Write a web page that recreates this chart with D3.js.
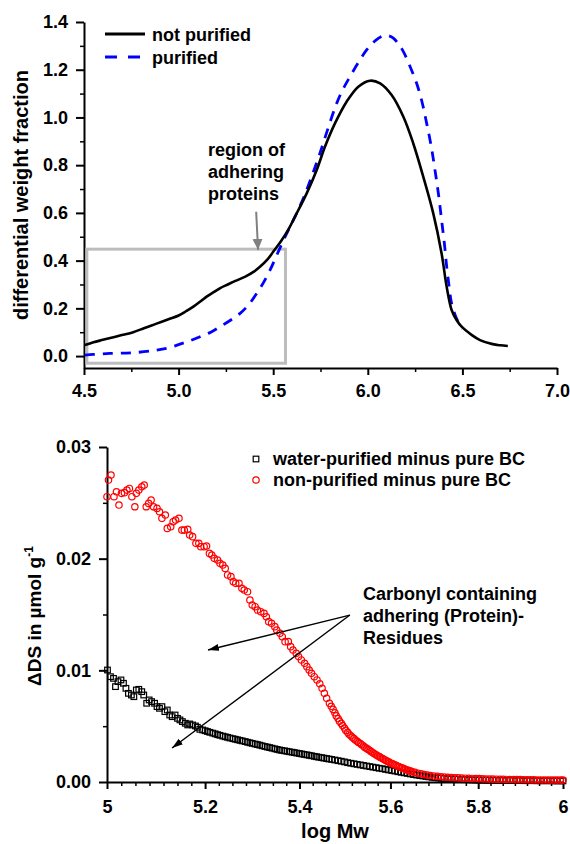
<!DOCTYPE html>
<html>
<head>
<meta charset="utf-8">
<script src="https://cdn.jsdelivr.net/npm/d3@7"></script>
<style>
  body { margin: 0; background: #fff; }
  svg text { font-family: "Liberation Sans", Arial, sans-serif; font-weight: bold; }
</style>
</head>
<body>
<div id="chart"></div>
<script>
// ---------- top panel: MWD curves ----------
const notPurifiedLogMw = [4.505, 4.55, 4.60, 4.65, 4.70, 4.76, 4.82, 4.88, 4.95, 5.00, 5.04, 5.08, 5.12, 5.15, 5.19, 5.22, 5.26, 5.30, 5.35, 5.40, 5.43, 5.47, 5.50, 5.54, 5.58, 5.615, 5.677, 5.73, 5.774, 5.827, 5.888, 5.95, 6.012, 6.065, 6.126, 6.188, 6.24, 6.293, 6.346, 6.39, 6.417, 6.443, 6.47, 6.496, 6.55, 6.593, 6.66, 6.70, 6.74];
const notPurifiedFrac = [0.046, 0.058, 0.068, 0.078, 0.088, 0.100, 0.118, 0.135, 0.155, 0.170, 0.188, 0.208, 0.232, 0.250, 0.270, 0.285, 0.300, 0.315, 0.332, 0.355, 0.374, 0.405, 0.437, 0.480, 0.530, 0.584, 0.682, 0.780, 0.878, 0.976, 1.066, 1.129, 1.154, 1.143, 1.094, 1.003, 0.892, 0.752, 0.598, 0.430, 0.290, 0.193, 0.150, 0.123, 0.088, 0.067, 0.050, 0.045, 0.042];

const purifiedLogMw = [4.505, 4.55, 4.637, 4.76, 4.884, 4.95, 5.007, 5.06, 5.113, 5.17, 5.219, 5.27, 5.325, 5.37, 5.413, 5.45, 5.483, 5.52, 5.55, 5.58, 5.62, 5.66, 5.70, 5.747, 5.79, 5.836, 5.87, 5.906, 5.95, 5.994, 6.04, 6.082, 6.11, 6.135, 6.16, 6.188, 6.22, 6.258, 6.285, 6.311, 6.335, 6.355, 6.375, 6.39, 6.405, 6.417, 6.43, 6.443, 6.465, 6.487, 6.50];
const purifiedFrac = [0.004, 0.007, 0.011, 0.014, 0.025, 0.035, 0.050, 0.064, 0.081, 0.100, 0.123, 0.148, 0.179, 0.215, 0.263, 0.310, 0.360, 0.425, 0.478, 0.528, 0.592, 0.662, 0.745, 0.850, 0.955, 1.060, 1.120, 1.171, 1.230, 1.283, 1.322, 1.342, 1.342, 1.332, 1.310, 1.276, 1.220, 1.143, 1.070, 0.976, 0.880, 0.780, 0.670, 0.570, 0.470, 0.374, 0.290, 0.220, 0.165, 0.130, 0.115];

const topXTicks = [4.5, 5.0, 5.5, 6.0, 6.5, 7.0];
const topYTicks = [0.0, 0.2, 0.4, 0.6, 0.8, 1.0, 1.2, 1.4];
const topLegend = ["not purified", "purified"];
const topNote = ["region of", "adhering", "proteins"];

// ---------- bottom panel: delta DS ----------
const waterLogMw = [5.001, 5.007, 5.013, 5.017, 5.022, 5.028, 5.033, 5.038, 5.043, 5.049, 5.054, 5.059, 5.064, 5.070, 5.074, 5.080, 5.085, 5.090, 5.096, 5.101, 5.106, 5.111, 5.117, 5.122, 5.127, 5.132, 5.138, 5.143, 5.148, 5.153, 5.159, 5.164, 5.168, 5.174, 5.180, 5.184, 5.189, 5.195,
  5.200, 5.205, 5.210, 5.216, 5.221, 5.226, 5.231, 5.237, 5.242, 5.247, 5.252, 5.258, 5.263, 5.268, 5.273, 5.278, 5.284, 5.289, 5.294, 5.299, 5.305, 5.310, 5.315, 5.320, 5.326, 5.331, 5.336, 5.341, 5.347, 5.352, 5.357, 5.362, 5.368, 5.373, 5.378, 5.384, 5.389, 5.394, 5.400, 5.405, 5.410, 5.416, 5.421, 5.426, 5.432, 5.437, 5.442, 5.448, 5.453, 5.459, 5.464, 5.470,
  5.477, 5.484, 5.491, 5.498, 5.505, 5.512, 5.519, 5.526, 5.533, 5.540, 5.547, 5.554, 5.561, 5.568, 5.575, 5.582, 5.589, 5.596, 5.603, 5.610, 5.617, 5.624, 5.631, 5.638, 5.645, 5.652, 5.659, 5.666, 5.673, 5.680, 5.687, 5.694, 5.701, 5.708, 5.715, 5.722,
  5.730, 5.738, 5.746, 5.754, 5.762, 5.770, 5.778, 5.786, 5.794, 5.802, 5.810, 5.818, 5.826, 5.834, 5.842, 5.850, 5.858, 5.866, 5.874, 5.882, 5.890, 5.898, 5.906, 5.914, 5.922, 5.930, 5.938, 5.946, 5.954, 5.962, 5.970, 5.978, 5.986, 5.994, 6.000];
const waterDS = [0.01003, 0.00943, 0.00928, 0.00854, 0.00899, 0.00914, 0.00884, 0.00839, 0.00794, 0.00779, 0.00764, 0.00824, 0.00830, 0.00809, 0.00779, 0.00705, 0.00735, 0.00720, 0.00705, 0.00675, 0.00660, 0.00675, 0.00630, 0.00645, 0.00600, 0.00585, 0.00600, 0.00570, 0.00556, 0.00541, 0.00526, 0.00511, 0.00520, 0.00511, 0.00502, 0.00490, 0.00472, 0.00466,
  0.00459, 0.00452, 0.00445, 0.00438, 0.00431, 0.00424, 0.00418, 0.00411, 0.00405, 0.00400, 0.00394, 0.00388, 0.00383, 0.00378, 0.00373, 0.00368, 0.00362, 0.00356, 0.00351, 0.00346, 0.00340, 0.00335, 0.00330, 0.00324, 0.00318, 0.00313, 0.00308, 0.00303, 0.00297, 0.00292, 0.00287, 0.00283, 0.00279, 0.00275, 0.00271, 0.00267, 0.00263, 0.00259, 0.00255, 0.00251, 0.00247, 0.00243, 0.00239, 0.00235, 0.00230, 0.00226, 0.00222, 0.00218, 0.00214, 0.00210, 0.00206, 0.00202,
  0.00197, 0.00191, 0.00186, 0.00180, 0.00173, 0.00168, 0.00163, 0.00158, 0.00153, 0.00148, 0.00143, 0.00138, 0.00133, 0.00128, 0.00123, 0.00119, 0.00113, 0.00108, 0.00103, 0.00098, 0.00092, 0.00087, 0.00082, 0.00077, 0.00072, 0.00067, 0.00062, 0.00058, 0.00054, 0.00050, 0.00046, 0.00042, 0.00039, 0.00036, 0.00033, 0.00031,
  0.00029, 0.00027, 0.00025, 0.00024, 0.00022, 0.00021, 0.00020, 0.00019, 0.00018, 0.00017, 0.00017, 0.00016, 0.00016, 0.00015, 0.00015, 0.00015, 0.00014, 0.00014, 0.00014, 0.00013, 0.00013, 0.00013, 0.00012, 0.00012, 0.00012, 0.00012, 0.00011, 0.00011, 0.00011, 0.00011, 0.00011, 0.00010, 0.00010, 0.00010, 0.00010];

const nonLogMw = [5.000, 5.003, 5.008, 5.014, 5.019, 5.024, 5.029, 5.035, 5.040, 5.045, 5.050, 5.056, 5.059, 5.064, 5.070, 5.075, 5.079, 5.084, 5.089, 5.094, 5.101, 5.106, 5.111, 5.118, 5.122, 5.129, 5.134, 5.139, 5.146, 5.152, 5.157, 5.164, 5.168, 5.174, 5.181, 5.187, 5.191, 5.198, 5.203, 5.209, 5.214, 5.219, 5.226, 5.231, 5.237, 5.242, 5.247, 5.254, 5.259, 5.264, 5.271, 5.277, 5.282, 5.289, 5.294, 5.299, 5.305, 5.310, 5.317, 5.324, 5.329, 5.334, 5.340, 5.347, 5.351, 5.358, 5.363, 5.369, 5.376, 5.381, 5.386, 5.393, 5.398, 5.404, 5.411, 5.416, 5.421, 5.426, 5.432, 5.438, 5.444, 5.449, 5.454, 5.459, 5.465,
  5.469, 5.473, 5.477, 5.480, 5.484, 5.487, 5.491, 5.494, 5.498, 5.501, 5.505, 5.508, 5.512, 5.515, 5.519, 5.522, 5.526, 5.529, 5.533, 5.536, 5.540, 5.543, 5.547, 5.550, 5.554, 5.557, 5.561, 5.564, 5.568, 5.571, 5.575, 5.578, 5.582, 5.585, 5.589, 5.592, 5.596, 5.599, 5.603, 5.606, 5.610, 5.613, 5.617, 5.620, 5.624, 5.627, 5.631, 5.634, 5.638, 5.641, 5.645, 5.648, 5.655, 5.662, 5.669, 5.676, 5.683, 5.690, 5.698, 5.706, 5.714, 5.722,
  5.730, 5.738, 5.746, 5.754, 5.762, 5.770, 5.778, 5.786, 5.794, 5.802, 5.810, 5.818, 5.826, 5.834, 5.842, 5.850, 5.858, 5.866, 5.874, 5.882, 5.890, 5.898, 5.906, 5.914, 5.922, 5.930, 5.938, 5.946, 5.954, 5.962, 5.970, 5.978, 5.986, 5.994, 6.000];
const nonDS = [0.02555, 0.02704, 0.02749, 0.02555, 0.02599, 0.02480, 0.02585, 0.02591, 0.02614, 0.02629, 0.02555, 0.02465, 0.02585, 0.02614, 0.02644, 0.02659, 0.02465, 0.02495, 0.02525, 0.02465, 0.02450, 0.02420, 0.02361, 0.02391, 0.02271, 0.02286, 0.02331, 0.02346, 0.02361, 0.02256, 0.02256, 0.02262, 0.02212, 0.02197, 0.02137, 0.02137, 0.02107, 0.02107, 0.02113, 0.02047, 0.02033, 0.02003, 0.01988, 0.01958, 0.01943, 0.01913, 0.01854, 0.01839, 0.01794, 0.01779, 0.01779, 0.01734, 0.01719, 0.01704, 0.01630, 0.01585, 0.01570, 0.01540, 0.01525, 0.01510, 0.01480, 0.01436, 0.01421, 0.01391, 0.01361, 0.01331, 0.01301, 0.01257, 0.01257, 0.01212, 0.01182, 0.01152, 0.01123, 0.01093, 0.01063, 0.01033, 0.01003, 0.00973, 0.00943, 0.00914, 0.00880, 0.00839, 0.00794, 0.00750, 0.00705,
  0.00678, 0.00650, 0.00620, 0.00592, 0.00568, 0.00545, 0.00525, 0.00505, 0.00483, 0.00462, 0.00445, 0.00428, 0.00414, 0.00400, 0.00388, 0.00376, 0.00365, 0.00354, 0.00344, 0.00334, 0.00322, 0.00310, 0.00301, 0.00292, 0.00282, 0.00272, 0.00262, 0.00252, 0.00243, 0.00235, 0.00227, 0.00219, 0.00211, 0.00203, 0.00195, 0.00188, 0.00180, 0.00173, 0.00166, 0.00160, 0.00153, 0.00147, 0.00141, 0.00135, 0.00129, 0.00124, 0.00118, 0.00112, 0.00107, 0.00102, 0.00097, 0.00093, 0.00086, 0.00079, 0.00073, 0.00067, 0.00062, 0.00058, 0.00054, 0.00050, 0.00047, 0.00044,
  0.00042, 0.00040, 0.00038, 0.00037, 0.00035, 0.00034, 0.00033, 0.00032, 0.00031, 0.00030, 0.00028, 0.00027, 0.00026, 0.00026, 0.00025, 0.00024, 0.00024, 0.00023, 0.00022, 0.00022, 0.00021, 0.00021, 0.00020, 0.00020, 0.00019, 0.00019, 0.00018, 0.00018, 0.00018, 0.00018, 0.00017, 0.00017, 0.00017, 0.00017, 0.00017];

const botXTicks = [5, 5.2, 5.4, 5.6, 5.8, 6];
const botYTicks = [0, 0.01, 0.02, 0.03];
const botLegend = ["water-purified minus pure BC", "non-purified minus pure BC"];
const botNote = ["Carbonyl containing", "adhering (Protein)-", "Residues"];

// ---------- svg ----------
const svg = d3.select("#chart").append("svg")
    .attr("width", 570)
    .attr("height", 844);

const defs = svg.append("defs");
defs.append("marker")
    .attr("id", "headGray")
    .attr("markerUnits", "userSpaceOnUse")
    .attr("markerWidth", 12).attr("markerHeight", 12)
    .attr("refX", 11).attr("refY", 5)
    .attr("orient", "auto")
    .append("path").attr("d", "M0,0L11,5L0,10Z").attr("fill", "#808080");
defs.append("marker")
    .attr("id", "headBlack")
    .attr("markerUnits", "userSpaceOnUse")
    .attr("markerWidth", 12).attr("markerHeight", 8)
    .attr("refX", 11).attr("refY", 3.5)
    .attr("orient", "auto")
    .append("path").attr("d", "M0,0L11,3.5L0,7Z").attr("fill", "#000");

function styleAxis(g, minor) {
    g.attr("font-size", 18)
        .attr("font-family", "'Liberation Sans', Arial, sans-serif")
        .attr("font-weight", "bold");
    g.select(".domain").attr("stroke-width", 2);
    g.selectAll(".tick line").attr("stroke-width", minor ? 1.5 : 2);
    if (minor) g.select(".domain").remove();
}

// ===== top panel =====
const x1 = d3.scaleLinear().domain([4.5, 7.0]).range([84, 557]);
const y1 = d3.scaleLinear().domain([-0.05, 1.4]).range([368, 22]);

const topMinorX = d3.range(4.75, 7.0, 0.5);
const topMinorY = d3.range(0.1, 1.4, 0.2);

svg.append("g").attr("transform", "translate(0,368)")
    .call(d3.axisBottom(x1).tickValues(topMinorX).tickSize(4).tickFormat(""))
    .call(g => styleAxis(g, true));
svg.append("g").attr("transform", "translate(84,0)")
    .call(d3.axisLeft(y1).tickValues(topMinorY).tickSize(4).tickFormat(""))
    .call(g => styleAxis(g, true));

svg.append("g").attr("transform", "translate(0,368)")
    .call(d3.axisBottom(x1).tickValues(topXTicks).tickSize(7).tickPadding(9)
        .tickSizeOuter(0).tickFormat(d3.format(".1f")))
    .call(g => styleAxis(g, false));
svg.append("g").attr("transform", "translate(84,0)")
    .call(d3.axisLeft(y1).tickValues(topYTicks).tickSize(8).tickPadding(8)
        .tickSizeOuter(0).tickFormat(d3.format(".1f")))
    .call(g => styleAxis(g, false));

svg.append("text")
    .attr("transform", "translate(28,195) rotate(-90)")
    .attr("text-anchor", "middle")
    .attr("font-size", 20)
    .text("differential weight fraction");

// region box
svg.append("rect")
    .attr("x", x1(4.515)).attr("y", y1(0.448))
    .attr("width", x1(5.565) - x1(4.515))
    .attr("height", y1(-0.03) - y1(0.448))
    .attr("fill", "none")
    .attr("stroke", "#bdbdbd")
    .attr("stroke-width", 3);

const topLine = d3.line()
    .x(d => x1(d[0]))
    .y(d => y1(d[1]))
    .curve(d3.curveCatmullRom.alpha(0.5));

svg.append("path")
    .datum(purifiedLogMw.map((v, i) => [v, purifiedFrac[i]]))
    .attr("fill", "none")
    .attr("stroke", "#0000ff")
    .attr("stroke-width", 2.8)
    .attr("stroke-dasharray", "10,8")
    .attr("d", topLine);

svg.append("path")
    .datum(notPurifiedLogMw.map((v, i) => [v, notPurifiedFrac[i]]))
    .attr("fill", "none")
    .attr("stroke", "#000")
    .attr("stroke-width", 2.6)
    .attr("d", topLine);

// annotation + arrow
svg.append("line")
    .attr("x1", x1(5.41)).attr("y1", y1(0.605))
    .attr("x2", x1(5.42)).attr("y2", y1(0.445))
    .attr("stroke", "#808080")
    .attr("stroke-width", 2)
    .attr("marker-end", "url(#headGray)");

const tn = svg.append("text")
    .attr("x", x1(5.155)).attr("y", y1(0.8386))
    .attr("font-size", 18);
topNote.forEach((s, i) => {
    tn.append("tspan").attr("x", x1(5.155)).attr("dy", i === 0 ? 0 : 22).text(s);
});

// legend
const topLegG = svg.append("g");
topLegend.forEach((s, i) => {
    const ly = 34 + i * 23;
    topLegG.append("line")
        .attr("x1", 105).attr("x2", 145)
        .attr("y1", ly).attr("y2", ly)
        .attr("stroke", i === 0 ? "#000" : "#0000ff")
        .attr("stroke-width", 2.8)
        .attr("stroke-dasharray", i === 0 ? null : "12,11");
    topLegG.append("text")
        .attr("x", 152).attr("y", ly + 6.5)
        .attr("font-size", 18)
        .text(s);
});

// ===== bottom panel =====
const x2 = d3.scaleLog().domain([5, 6]).range([107, 563]);
const y2 = d3.scaleLinear().domain([0, 0.03]).range([782, 447]);

const botMinorX = [];
for (let k = 0; k < botXTicks.length - 1; k++) {
    for (let j = 1; j < 7; j++) botMinorX.push(botXTicks[k] + (botXTicks[k + 1] - botXTicks[k]) * j / 7);
}
const botMinorY = [0.005, 0.015, 0.025];

svg.append("g").attr("transform", "translate(0,782)")
    .call(d3.axisBottom(x2).tickValues(botMinorX).tickSize(4).tickFormat(""))
    .call(g => styleAxis(g, true));
svg.append("g").attr("transform", "translate(107,0)")
    .call(d3.axisLeft(y2).tickValues(botMinorY).tickSize(4).tickFormat(""))
    .call(g => styleAxis(g, true));

svg.append("g").attr("transform", "translate(0,782)")
    .call(d3.axisBottom(x2).tickValues(botXTicks).tickSize(7).tickPadding(11)
        .tickSizeOuter(0).tickFormat(d => String(d)))
    .call(g => styleAxis(g, false));
svg.append("g").attr("transform", "translate(107,0)")
    .call(d3.axisLeft(y2).tickValues(botYTicks).tickSize(8).tickPadding(8)
        .tickSizeOuter(0).tickFormat(d3.format(".2f")))
    .call(g => styleAxis(g, false));

const yt = svg.append("text")
    .attr("transform", "translate(41,616) rotate(-90)")
    .attr("text-anchor", "middle")
    .attr("font-size", 19);
yt.append("tspan").text("\u0394DS in \u00b5mol g");
yt.append("tspan").attr("font-size", 12).attr("dy", -8).text("-1");

svg.append("text")
    .attr("x", 335).attr("y", 838)
    .attr("text-anchor", "middle")
    .attr("font-size", 20)
    .text("log Mw");

// squares
svg.append("g").selectAll("rect")
    .data(waterLogMw.map((v, i) => [v, waterDS[i]]))
    .join("rect")
    .attr("x", d => x2(d[0]) - 2.8)
    .attr("y", d => y2(d[1]) - 2.8)
    .attr("width", 5.6).attr("height", 5.6)
    .attr("fill", "none")
    .attr("stroke", "#000")
    .attr("stroke-width", 1.2);

// circles
svg.append("g").selectAll("circle")
    .data(nonLogMw.map((v, i) => [v, nonDS[i]]))
    .join("circle")
    .attr("cx", d => x2(d[0]))
    .attr("cy", d => y2(d[1]))
    .attr("r", 3.2)
    .attr("fill", "none")
    .attr("stroke", "#ff0000")
    .attr("stroke-width", 1.2);

// annotation arrows
const arrowFrom = [5.510, 0.01495];
const arrowTips = [[5.206, 0.01182], [5.1317, 0.00304]];
arrowTips.forEach(t => {
    svg.append("line")
        .attr("x1", x2(arrowFrom[0])).attr("y1", y2(arrowFrom[1]))
        .attr("x2", x2(t[0])).attr("y2", y2(t[1]))
        .attr("stroke", "#000")
        .attr("stroke-width", 1.4)
        .attr("marker-end", "url(#headBlack)");
});

const bn = svg.append("text")
    .attr("x", x2(5.5389)).attr("y", y2(0.016294))
    .attr("font-size", 18);
botNote.forEach((s, i) => {
    bn.append("tspan").attr("x", x2(5.5389)).attr("dy", i === 0 ? 0 : 22).text(s);
});

// legend
const botLegG = svg.append("g");
botLegG.append("rect")
    .attr("x", 253.2).attr("y", 456.2).attr("width", 5.6).attr("height", 5.6)
    .attr("fill", "none").attr("stroke", "#000").attr("stroke-width", 1.2);
botLegG.append("circle")
    .attr("cx", 256).attr("cy", 480).attr("r", 3.2)
    .attr("fill", "none").attr("stroke", "#ff0000").attr("stroke-width", 1.2);
botLegend.forEach((s, i) => {
    botLegG.append("text")
        .attr("x", 273).attr("y", 465 + i * 21)
        .attr("font-size", 18)
        .text(s);
});
</script>
</body>
</html>
